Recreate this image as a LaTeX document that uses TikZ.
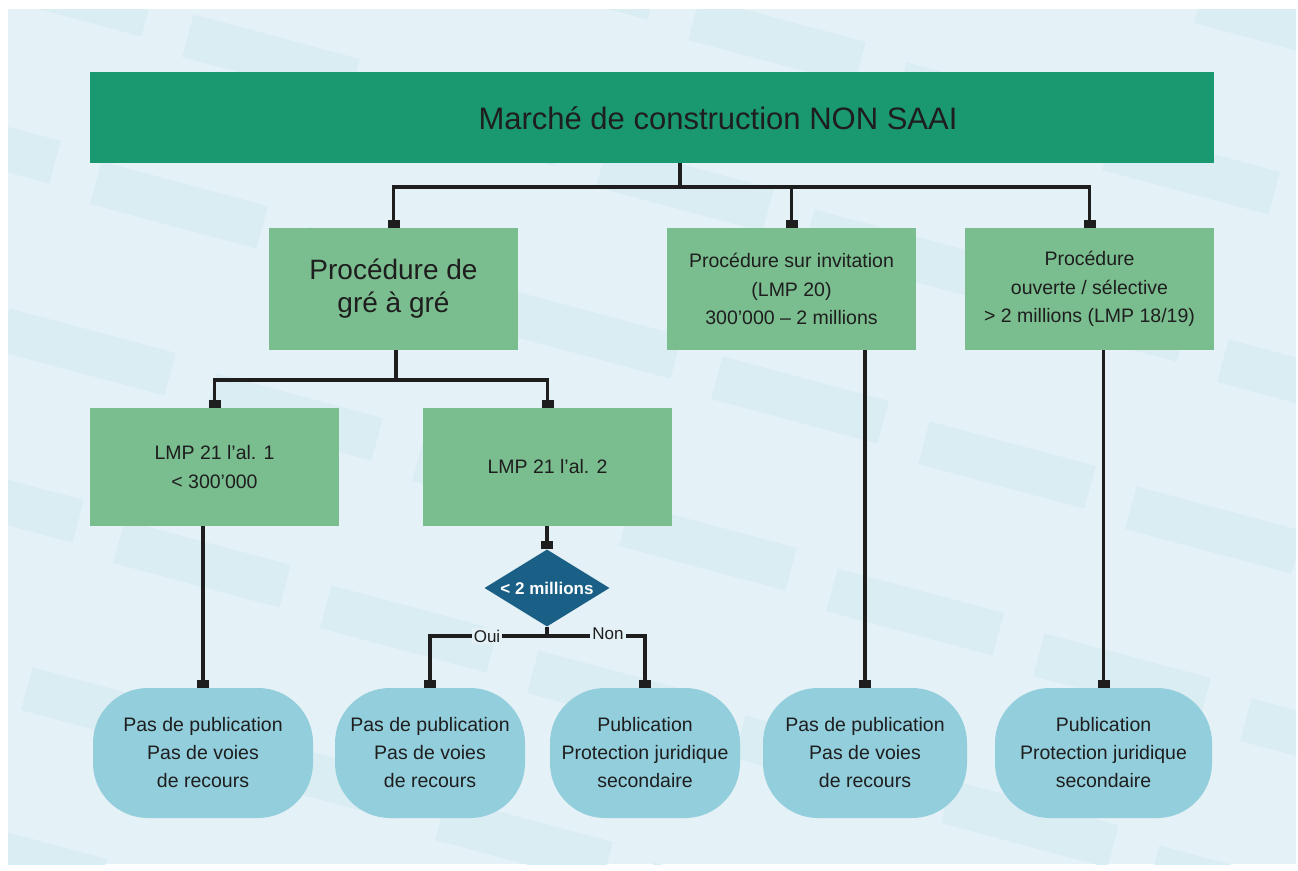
\documentclass[tikz,border=0pt]{standalone}
\usepackage{fontspec}
\setmainfont{Liberation Sans}
\usetikzlibrary{arrows.meta,shapes.geometric}

\definecolor{bgblue}{HTML}{E4F1F6}
\definecolor{bgpatch}{HTML}{DAEDF2}
\definecolor{darkgreen}{HTML}{1A9870}
\definecolor{lightgreen}{HTML}{7ABD8F}
\definecolor{ovalblue}{HTML}{92CEDC}
\definecolor{petrol}{HTML}{1A5F85}
\definecolor{ink}{HTML}{1E1E1E}

\begin{document}
\begin{tikzpicture}[x=1pt, y=-1pt,
  box/.style={fill=lightgreen, minimum width=249pt, minimum height=120pt, inner sep=0pt,
    align=center, text=ink, font=\fontsize{19.5}{28.5}\selectfont},
  result/.style={fill=ovalblue, rounded corners=55pt, minimum height=130pt, inner sep=0pt,
    align=center, text=ink, font=\fontsize{19.5}{28}\selectfont},
  decision/.style={diamond, aspect=1.62, fill=petrol, minimum width=125pt, minimum height=77pt, inner sep=0pt,
    text=white, font=\fontsize{17}{20}\selectfont\bfseries},
  yesno/.style={fill=bgblue, inner sep=2pt, text=ink, font=\fontsize{17}{20}\selectfont},
  line/.style={draw=ink, line width=3.4pt},
  arr/.style={line, -{Square[length=8pt,width=12pt]}}]

\useasboundingbox (0,0) rectangle (1298,870);

% background with tilted patches
\fill[bgblue] (8,9) rectangle (1296,864);
\begin{scope}
\clip (8,9) rectangle (1296,864);
\foreach \i in {-6,...,4}{
  \foreach \j in {-3,...,5}{
    \pgfmathsetmacro\cx{800+207*\i-92*\j}
    \pgfmathsetmacro\cy{400+65*\i+147*\j}
    \fill[bgpatch, rotate around={-15:(\cx,\cy)}] (\cx-86,\cy-22) rectangle (\cx+86,\cy+22);
  }
}
\end{scope}

% top
\node[fill=darkgreen, minimum width=1124pt, minimum height=91pt, inner sep=0pt] (top) at (652,117.5) {};
\node[text=ink, font=\fontsize{31}{36}\selectfont] (title) at (718,118) {Marché de construction NON SAAI};

% procedures
\node[box, minimum height=122pt, font=\fontsize{28}{33}\selectfont] (gre) at (393.5,289) {Procédure de\\gré à gré};
\node[box, minimum height=122pt] (inv) at (791.5,289) {Procédure sur invitation\\(LMP 20)\\300'000 -- 2 millions};
\node[box, minimum height=122pt] (ouv) at (1089.5,289) {Procédure\\ouverte / sélective\\> 2 millions (LMP 18/19)};

\node[box, minimum height=118pt] (al1) at (214.5,467) {LMP 21 l'al. 1\\< 300'000};
\node[box, minimum height=118pt] (al2) at (547.5,467) {LMP 21 l'al. 2};

\node[decision] (dec) at (547,588) {< 2 millions};

% results
\node[result, minimum width=220pt] (c1) at (203,753) {Pas de publication\\Pas de voies\\de recours};
\node[result, minimum width=190pt] (c2) at (430,753) {Pas de publication\\Pas de voies\\de recours};
\node[result, minimum width=190pt] (c3) at (645,753) {Publication\\Protection juridique\\secondaire};
\node[result, minimum width=204pt] (c4) at (865,753) {Pas de publication\\Pas de voies\\de recours};
\node[result, minimum width=217pt] (c5) at (1103.5,753) {Publication\\Protection juridique\\secondaire};

% connectors
\coordinate (split1) at (680,187);
\draw[line] (top.south -| split1) -- (split1);
\draw[arr] (split1) -| (gre.north);
\draw[arr] (split1) -| (inv.north);
\draw[arr] (split1) -| (ouv.north);

\coordinate (split2) at (396,380);
\draw[line] (gre.south -| split2) -- (split2);
\draw[arr] (split2) -| (al1.north);
\draw[arr] (split2) -| (al2.north);

\draw[arr] (al1.south -| c1.north) -- (c1.north);
\draw[arr] (al2.south -| dec.north) -- (dec.north);
\draw[arr] (inv.south -| c4.north) -- (c4.north);
\draw[arr] (ouv.south -| c5.north) -- (c5.north);

\coordinate (split3) at (547,636);
\draw[line] (dec.south) -- (split3);
\draw[arr] (split3) -| (c2.north);
\draw[arr] (split3) -| (c3.north);

\node[yesno] (oui) at (487,636) {Oui};
\node[yesno] (non) at (608,634) {Non};
\end{tikzpicture}
\end{document}
